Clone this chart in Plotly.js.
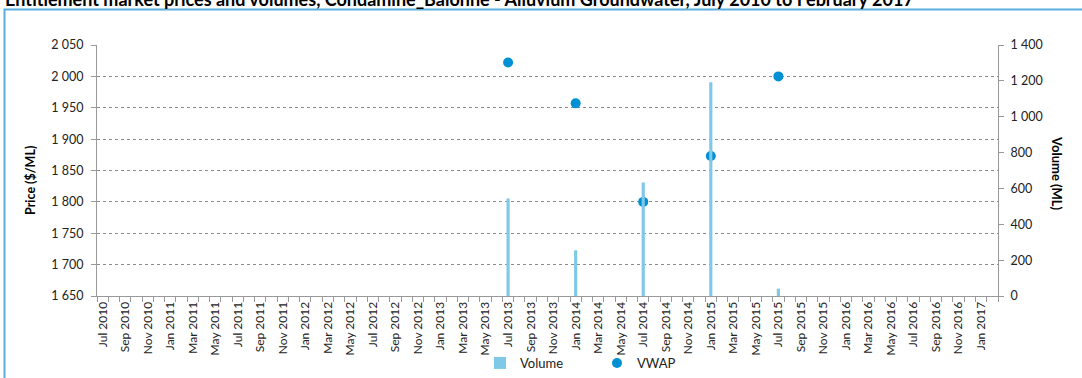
<!DOCTYPE html>
<html>
<head>
<meta charset="utf-8">
<script src="https://cdn.plot.ly/plotly-3.0.1.min.js"></script>
<style>
html,body{margin:0;padding:0;background:#fff;}
#chart{width:1082px;height:378px;}
</style>
</head>
<body>
<div id="chart"></div>
<script>
// Monthly categories, July 2010 to February 2017
const months = [
 'Jul 2010','Aug 2010','Sep 2010','Oct 2010','Nov 2010','Dec 2010',
 'Jan 2011','Feb 2011','Mar 2011','Apr 2011','May 2011','Jun 2011','Jul 2011','Aug 2011','Sep 2011','Oct 2011','Nov 2011','Dec 2011',
 'Jan 2012','Feb 2012','Mar 2012','Apr 2012','May 2012','Jun 2012','Jul 2012','Aug 2012','Sep 2012','Oct 2012','Nov 2012','Dec 2012',
 'Jan 2013','Feb 2013','Mar 2013','Apr 2013','May 2013','Jun 2013','Jul 2013','Aug 2013','Sep 2013','Oct 2013','Nov 2013','Dec 2013',
 'Jan 2014','Feb 2014','Mar 2014','Apr 2014','May 2014','Jun 2014','Jul 2014','Aug 2014','Sep 2014','Oct 2014','Nov 2014','Dec 2014',
 'Jan 2015','Feb 2015','Mar 2015','Apr 2015','May 2015','Jun 2015','Jul 2015','Aug 2015','Sep 2015','Oct 2015','Nov 2015','Dec 2015',
 'Jan 2016','Feb 2016','Mar 2016','Apr 2016','May 2016','Jun 2016','Jul 2016','Aug 2016','Sep 2016','Oct 2016','Nov 2016','Dec 2016',
 'Jan 2017','Feb 2017'
];
// Months with trades
const tradeMonths = ['Jul 2013','Jan 2014','Jul 2014','Jan 2015','Jul 2015'];
// Volume traded (ML)
const volume = [544, 255, 633, 1192, 41];
// Volume weighted average price ($/ML)
const vwap = [2022, 1957, 1800, 1873, 2000];

const chartTitle = 'Entitlement market prices and volumes, Condamine_Balonne - Alluvium Groundwater, July 2010 to February 2017';

const FONT = 'Lato, "Open Sans", sans-serif';
const tickText = months.map((m, i) => (i % 2 === 0 ? m : ''));

const traces = [
  {
    type: 'bar', name: 'Volume', x: tradeMonths, y: volume, yaxis: 'y2',
    marker: {color: '#7FC8E8'}, hoverinfo: 'x+y'
  },
  {
    type: 'scatter', mode: 'markers', name: 'VWAP', x: tradeMonths, y: vwap, yaxis: 'y',
    marker: {color: '#0090D4', size: 10}
  }
];

const L = 97, R = 84, T = 45, B = 82;
const plotW = 1082 - L - R, plotH = 378 - T - B;
const px2x = p => (p - L) / plotW;
const py2y = p => 1 - (p - T) / plotH;

const layout = {
  width: 1082, height: 378,
  margin: {l: L, r: R, t: T, b: B, pad: 0, autoexpand: false},
  paper_bgcolor: '#ffffff', plot_bgcolor: 'rgba(0,0,0,0)',
  font: {family: FONT, size: 12, color: '#222'},
  separators: '. ',
  bargap: 0.72,
  showlegend: true,
  title: {
    text: '<b>' + chartTitle + '</b>',
    font: {family: FONT, size: 18, color: '#000'},
    xref: 'container', x: 5 / 1082, xanchor: 'left',
    yref: 'container', y: 1, yanchor: 'middle', pad: {t: 0, b: 0, l: 0, r: 0},
    automargin: false
  },
  xaxis: {
    type: 'category', categoryorder: 'array', categoryarray: months,
    range: [-0.5, months.length - 0.5],
    tickmode: 'array', tickvals: months, ticktext: tickText,
    tickson: 'boundaries', ticks: 'outside', ticklen: 5, tickcolor: '#999',
    tickangle: -90, showgrid: false, showline: true, linecolor: '#999', linewidth: 1,
    tickfont: {family: FONT, size: 12, color: '#222'}, automargin: false
  },
  yaxis: {
    range: [1650, 2050], dtick: 50, tick0: 1650, separatethousands: true,
    showgrid: true, gridcolor: '#8c8c8c', griddash: 'dot', gridwidth: 1,
    showline: true, linecolor: '#999', ticks: 'outside', ticklen: 5, tickcolor: '#999',
    zeroline: false, automargin: false, ticklabelstandoff: 5,
    tickfont: {family: FONT, size: 12.5, color: '#222'}
  },
  yaxis2: {
    overlaying: 'y', side: 'right', range: [0, 1400], dtick: 200, tick0: 0,
    separatethousands: true, showgrid: false, zeroline: false,
    showline: true, linecolor: '#999', ticks: 'outside', ticklen: 5, tickcolor: '#999',
    automargin: false, ticklabelstandoff: 4,
    tickfont: {family: FONT, size: 12.5, color: '#222'}
  },
  legend: {
    orientation: 'h', xref: 'container', x: 480 / 1082, xanchor: 'left',
    yref: 'container', y: 0, yanchor: 'bottom',
    font: {family: FONT, size: 13, color: '#222'}, bgcolor: 'rgba(0,0,0,0)',
    itemwidth: 30, tracegroupgap: 0, entrywidth: 72, entrywidthmode: 'pixels'
  },
  annotations: [
    {text: '<b>Price ($/ML)</b>', textangle: -90, xref: 'paper', yref: 'paper',
     x: px2x(30), y: py2y(181), xanchor: 'center', yanchor: 'middle', showarrow: false,
     font: {family: FONT, size: 12.5, color: '#000'}},
    {text: '<b>Volume (ML)</b>', textangle: 90, xref: 'paper', yref: 'paper',
     x: px2x(1057), y: py2y(173), xanchor: 'center', yanchor: 'middle', showarrow: false,
     font: {family: FONT, size: 13, color: '#000'}}
  ],
  shapes: [
    {type: 'path', xref: 'paper', yref: 'paper',
     path: 'M ' + px2x(4.5) + ' ' + py2y(400) + ' L ' + px2x(4.5) + ' ' + py2y(9.5) + ' L ' + px2x(1100) + ' ' + py2y(9.5),
     line: {color: '#5BAEDD', width: 2}, layer: 'below'}
  ]
};

Plotly.newPlot('chart', traces, layout, {staticPlot: true, displayModeBar: false});
</script>
</body>
</html>
